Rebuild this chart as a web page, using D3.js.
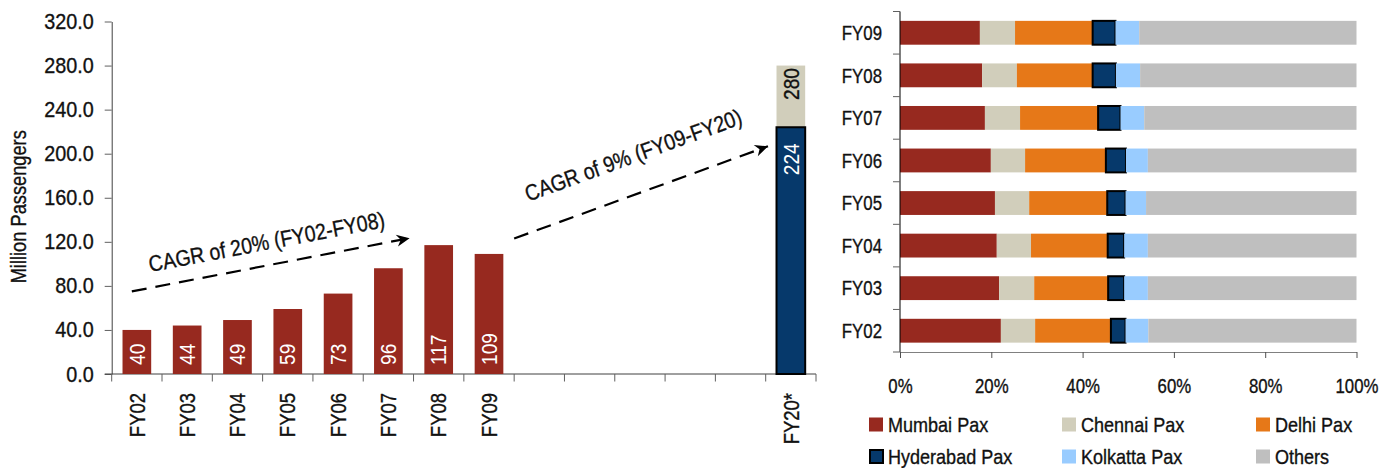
<!DOCTYPE html>
<html>
<head>
<meta charset="utf-8">
<script src="https://cdn.jsdelivr.net/npm/d3@7"></script>
<style>
  html, body { margin: 0; padding: 0; background: #fff; }
  svg { display: block; font-family: "Liberation Sans", Arial, sans-serif; }
  svg text.ink { stroke: #111; stroke-width: 0.35px; }
</style>
</head>
<body>
<svg id="chart" width="1391" height="468"></svg>
<script>
// ---- Passenger traffic (million) ----
const categories = ["FY02", "FY03", "FY04", "FY05", "FY06", "FY07", "FY08", "FY09", "", "", "", "", "", "FY20*"];
const passengers = [40, 44, 49, 59, 73, 96, 117, 109];
const forecastBase = 224;
const forecastTotal = 280;
const yTicks = [0, 40, 80, 120, 160, 200, 240, 280, 320];

// ---- Airport share of traffic (%) ----
const shareYears = ["FY02", "FY03", "FY04", "FY05", "FY06", "FY07", "FY08", "FY09"];
const airports = ["Mumbai Pax", "Chennai Pax", "Delhi Pax", "Hyderabad Pax", "Kolkatta Pax", "Others"];
const mumbai    = [22.1, 21.7, 21.2, 20.8, 19.9, 18.6, 18.0, 17.5];
const chennai   = [7.5, 7.7, 7.5, 7.5, 7.5, 7.7, 7.6, 7.7];
const delhi     = [16.6, 16.2, 16.8, 17.1, 17.7, 17.1, 16.6, 17.0];
const hyderabad = [3.2, 3.5, 3.6, 4.0, 4.4, 4.9, 5.1, 5.0];
const kolkatta  = [5.0, 5.2, 5.2, 4.5, 4.8, 5.2, 5.3, 5.2];
const others    = [45.6, 45.7, 45.7, 46.1, 45.7, 46.5, 47.4, 47.6];
const shareTicks = [0, 20, 40, 60, 80, 100];

// ---- Growth annotations ----
const cagrText = ["CAGR of 20% (FY02-FY08)", "CAGR of 9% (FY09-FY20)"];

const colors = {
  "Mumbai Pax": "#97291f",
  "Chennai Pax": "#d1cebb",
  "Delhi Pax": "#e67818",
  "Hyderabad Pax": "#06396b",
  "Kolkatta Pax": "#99ccff",
  "Others": "#bfbfbf"
};

// condensed lettering: horizontally compressed sans
function condense(sel, sx, rot) {
  sel.each(function () {
    const t = d3.select(this);
    const tx = +t.attr("x") || 0, ty = +t.attr("y") || 0;
    t.attr("x", null).attr("y", null)
      .attr("transform", `translate(${tx},${ty})${rot ? ` rotate(${rot})` : ""} scale(${sx},1)`);
  });
}

const svg = d3.select("#chart");

// ================= Left: passenger bars =================
const y = d3.scaleLinear().domain([0, 320]).range([374, 21.5]);
const x = d3.scaleBand()
  .domain(d3.range(categories.length))
  .range([111.7, 816])
  .paddingInner(0.43)
  .paddingOuter(0.215);
const x0 = x.range()[0];
const step = x.step();
const xAt = i => x0 + step * i;   // position along the category axis in band units

const yAxis = svg.append("g")
  .attr("transform", `translate(${x0},0)`)
  .call(d3.axisLeft(y).tickValues(yTicks).tickFormat(d3.format(".1f")).tickSize(7).tickSizeOuter(0).tickPadding(11));
yAxis.select(".domain").attr("stroke", "#404040");
yAxis.selectAll(".tick line").attr("stroke", "#606060");
yAxis.selectAll(".tick text").attr("class", "ink").attr("font-size", 22).attr("fill", "#111").attr("font-family", null)
  .call(condense, 0.9);

// category axis with ticks on band boundaries
const xAxis = svg.append("g");
xAxis.append("line")
  .attr("x1", x0 - 7).attr("x2", xAt(categories.length))
  .attr("y1", y(0)).attr("y2", y(0))
  .attr("stroke", "#404040");
xAxis.selectAll("line.bt").data(d3.range(categories.length + 1)).join("line")
  .attr("class", "bt")
  .attr("x1", d => xAt(d)).attr("x2", d => xAt(d))
  .attr("y1", y(0)).attr("y2", y(0) + 7.5)
  .attr("stroke", "#606060");
xAxis.selectAll("text").data(categories).join("text")
  .attr("class", "ink")
  .attr("x", (d, i) => x(i) + x.bandwidth() / 2)
  .attr("y", y(0) + 19)
  .attr("text-anchor", "end")
  .attr("dy", "0.35em")
  .attr("font-size", 22)
  .attr("fill", "#111")
  .text(d => d)
  .call(condense, 0.84, -90);

svg.append("text")
  .attr("class", "ink")
  .attr("x", 26).attr("y", (y(0) + y(320)) / 2 + 9)
  .attr("text-anchor", "middle")
  .attr("font-size", 22)
  .attr("fill", "#111")
  .text("Million Passengers")
  .call(condense, 0.83, -90);

// historical bars
svg.selectAll("rect.hist").data(passengers).join("rect")
  .attr("class", "hist")
  .attr("x", (d, i) => x(i))
  .attr("y", d => y(d))
  .attr("width", x.bandwidth())
  .attr("height", d => y(0) - y(d))
  .attr("fill", colors["Mumbai Pax"]);

svg.selectAll("text.hist").data(passengers).join("text")
  .attr("class", "hist")
  .attr("x", (d, i) => x(i) + x.bandwidth() / 2)
  .attr("y", y(0) - 9)
  .attr("dy", "0.35em")
  .attr("font-size", 22)
  .attr("fill", "#fff")
  .text(d => d)
  .call(condense, 0.87, -90);

// FY20 forecast: base plus upside
const fi = categories.length - 1;
svg.append("rect")
  .attr("x", x(fi)).attr("width", x.bandwidth())
  .attr("y", y(forecastTotal)).attr("height", y(forecastBase) - y(forecastTotal))
  .attr("fill", colors["Chennai Pax"]);
svg.append("rect")
  .attr("x", x(fi)).attr("width", x.bandwidth())
  .attr("y", y(forecastBase)).attr("height", y(0) - y(forecastBase))
  .attr("fill", colors["Hyderabad Pax"])
  .attr("stroke", "#000").attr("stroke-width", 2);
svg.append("text")
  .attr("x", x(fi) + x.bandwidth() / 2).attr("y", y(forecastBase) + 16)
  .attr("text-anchor", "end").attr("dy", "0.35em")
  .attr("font-size", 22).attr("fill", "#fff")
  .text(forecastBase)
  .call(condense, 0.87, -90);
svg.append("text")
  .attr("class", "ink")
  .attr("x", x(fi) + x.bandwidth() / 2).attr("y", y(forecastTotal) + 2.5)
  .attr("text-anchor", "end").attr("dy", "0.35em")
  .attr("font-size", 22).attr("fill", "#111")
  .text(forecastTotal)
  .call(condense, 0.87, -90);

// growth arrows
svg.append("defs").append("marker")
  .attr("id", "head")
  .attr("viewBox", "-14 -7 16 14")
  .attr("markerWidth", 16).attr("markerHeight", 14)
  .attr("markerUnits", "userSpaceOnUse")
  .attr("refX", 0).attr("refY", 0)
  .attr("orient", "auto")
  .append("path")
  .attr("d", "M0,0 L-13,-6 L-9,0 L-13,6 Z")
  .attr("fill", "#000");

const arrows = [
  { from: [0.4, 75], to: [6.0, 124], label: [3.11, 113] },
  { from: [8.0, 123], to: [13.12, 208], label: [10.42, 192] }
];
arrows.forEach((a, k) => {
  const x1 = xAt(a.from[0]), y1 = y(a.from[1]);
  const x2 = xAt(a.to[0]), y2 = y(a.to[1]);
  const rad = Math.atan2(y2 - y1, x2 - x1);
  const ang = rad * 180 / Math.PI;
  svg.append("line")
    .attr("x1", x1).attr("y1", y1)
    .attr("x2", x2 - 4 * Math.cos(rad)).attr("y2", y2 - 4 * Math.sin(rad))
    .attr("stroke", "#000").attr("stroke-width", 2.2)
    .attr("stroke-dasharray", "15,9")
    .attr("marker-end", "url(#head)");
  svg.append("text")
    .attr("class", "ink")
    .attr("x", xAt(a.label[0])).attr("y", y(a.label[1]))
    .attr("text-anchor", "middle")
    .attr("font-size", 22.5)
    .attr("fill", "#111")
    .text(cagrText[k])
    .call(condense, 0.865, ang);
});

// ================= Right: share of traffic =================
const seriesValues = [mumbai, chennai, delhi, hyderabad, kolkatta, others];
const rows = shareYears.map((yr, i) => {
  const r = { year: yr };
  airports.forEach((a, k) => { r[a] = seriesValues[k][i]; });
  return r;
});
const stacked = d3.stack().keys(airports)(rows);

const xr = d3.scaleLinear().domain([0, 100]).range([900, 1356.5]);
const yr = d3.scaleBand()
  .domain(shareYears.slice().reverse())
  .range([11.5, 352])
  .paddingInner(0.44)
  .paddingOuter(0.22);

svg.append("g").selectAll("g").data(stacked).join("g")
  .each(function (s) {
    const hyd = s.key === "Hyderabad Pax";
    d3.select(this).selectAll("rect").data(s).join("rect")
      .attr("x", d => xr(d[0]))
      .attr("width", d => xr(d[1]) - xr(d[0]))
      .attr("y", d => yr(d.data.year))
      .attr("height", yr.bandwidth())
      .attr("fill", colors[s.key])
      .attr("stroke", hyd ? "#000" : null)
      .attr("stroke-width", hyd ? 2 : null);
  });

const xrAxis = svg.append("g")
  .attr("transform", `translate(0,352)`)
  .call(d3.axisBottom(xr).tickValues(shareTicks).tickFormat(d => d + "%").tickSize(6).tickSizeOuter(0).tickPadding(20));
xrAxis.select(".domain").attr("stroke", "#808080");
xrAxis.selectAll(".tick line").attr("stroke", "#505050");
xrAxis.selectAll(".tick text").attr("class", "ink").attr("font-size", 20.5).attr("fill", "#111").attr("font-family", null)
  .call(condense, 0.82);

// category axis on band boundaries
const yb0 = yr.range()[0], ystep = yr.step();
const yrAxis = svg.append("g");
yrAxis.append("line")
  .attr("x1", xr(0)).attr("x2", xr(0))
  .attr("y1", yb0).attr("y2", yb0 + ystep * shareYears.length)
  .attr("stroke", "#000");
yrAxis.selectAll("line.bt").data(d3.range(shareYears.length + 1)).join("line")
  .attr("class", "bt")
  .attr("x1", xr(0) - 7).attr("x2", xr(0))
  .attr("y1", d => yb0 + ystep * d).attr("y2", d => yb0 + ystep * d)
  .attr("stroke", "#606060");
yrAxis.selectAll("text").data(yr.domain()).join("text")
  .attr("class", "ink")
  .attr("x", xr(0) - 18)
  .attr("y", d => yr(d) + yr.bandwidth() / 2)
  .attr("dy", "0.35em")
  .attr("text-anchor", "end")
  .attr("font-size", 20.5)
  .attr("fill", "#111")
  .text(d => d)
  .call(condense, 0.82);

// legend, three per row
const legend = svg.append("g");
const legX = [869, 1062, 1256];
const legY = [424.5, 456.5];
airports.forEach((a, k) => {
  const gx = legX[k % 3], gy = legY[Math.floor(k / 3)];
  const hyd = a === "Hyderabad Pax";
  legend.append("rect")
    .attr("x", gx + (hyd ? 1 : 0)).attr("y", gy - 7 + (hyd ? 0.5 : 0))
    .attr("width", hyd ? 13 : 14).attr("height", hyd ? 13 : 14)
    .attr("fill", colors[a])
    .attr("stroke", hyd ? "#000" : null)
    .attr("stroke-width", hyd ? 2 : null);
  legend.append("text")
    .attr("class", "ink")
    .attr("x", gx + 19).attr("y", gy)
    .attr("dy", "0.35em")
    .attr("font-size", 20.5)
    .attr("fill", "#111")
    .text(a)
    .call(condense, 0.88);
});
</script>
</body>
</html>
